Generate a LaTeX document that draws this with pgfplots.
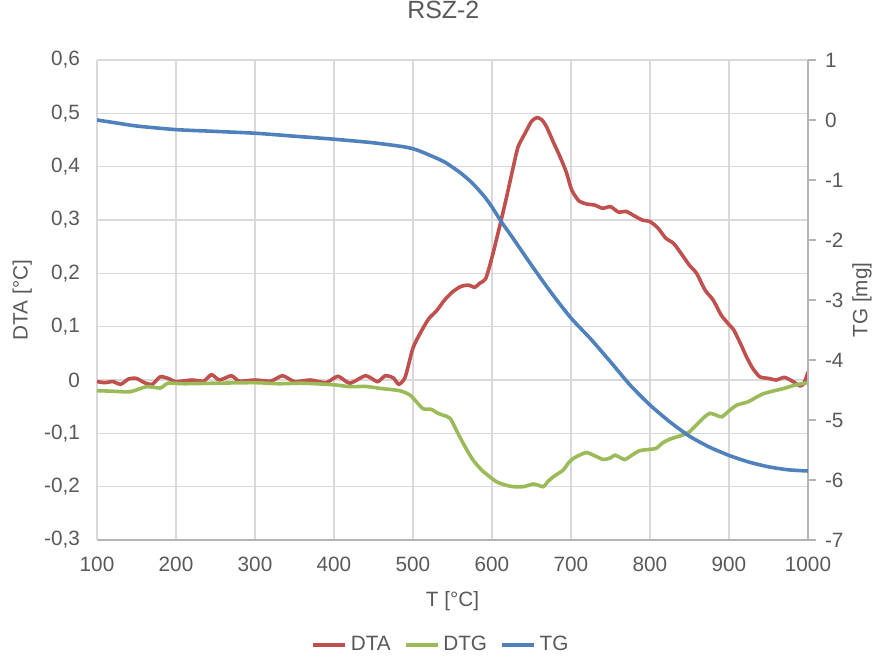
\documentclass[border=0pt]{standalone}
\usepackage{pgfplots}
\pgfplotsset{compat=1.18}
\usepackage{fontspec}
\setmainfont{Liberation Sans}
\definecolor{txt}{RGB}{89,89,89}
\definecolor{gridc}{RGB}{217,217,217}
\definecolor{dta}{RGB}{192,80,77}
\definecolor{dtg}{RGB}{155,187,89}
\definecolor{tg}{RGB}{79,129,189}
\begin{document}
\begin{tikzpicture}
\path[use as bounding box] (-48.5bp,-61bp) rectangle (391.5bp,270bp);
\begin{axis}[
  scale only axis, width=355.5bp, height=240bp,
  xmin=100, xmax=1000, ymin=-0.3, ymax=0.6,
  xtick={100,200,...,1000},
  ytick={-0.3,-0.2,-0.1,0,0.1,0.2,0.3,0.4,0.5,0.6},
  yticklabels={{-0,3},{-0,2},{-0,1},0,{0,1},{0,2},{0,3},{0,4},{0,5},{0,6}},
  /pgf/number format/assume math mode=true,
  /pgf/number format/1000 sep={},
  grid=major, major grid style={gridc, line width=0.75pt},
  axis line style={draw=gridc, line width=0.75pt},
  axis x line*=bottom, axis y line*=left,
  separate axis lines,
  x axis line style={draw=gridc!60!gray},
  major tick length=0pt,
  tick label style={font=\fontsize{10.4}{12}\selectfont, text=txt},
  xticklabel style={yshift=-5bp},
  yticklabel style={xshift=-5bp},
  xlabel={T [°C]}, ylabel={DTA [°C]},
  label style={font=\fontsize{10.4}{12}\selectfont, text=txt},
  xlabel style={at={(axis description cs:0.5,-0.128)}, anchor=center},
  ylabel style={at={(axis description cs:-0.105,0.5)}, anchor=center},
  title={RSZ-2},
  title style={font=\fontsize{12.5}{14}\selectfont, text=txt, at={(axis description cs:0.487,1.079)}, anchor=center},
]
\addplot[dta, line width=1.8pt, smooth, tension=0.4] coordinates {
(100,-0.003) (110,-0.005) (120,-0.003) (130,-0.008) (140,0.002) (150,0.003)
(160,-0.005) (170,-0.008) (180,0.006) (190,0.003) (200,-0.003) (220,0.0)
(235,-0.002) (245,0.01) (255,0.0) (270,0.008) (280,-0.002) (300,0.0)
(320,-0.002) (335,0.008) (350,-0.003) (370,0.0) (390,-0.005) (405,0.007)
(420,-0.006) (440,0.008) (455,-0.003) (465,0.008) (475,0.004) (482,-0.008)
(490,0.005) (500,0.06) (510,0.09) (520,0.115) (530,0.13) (540,0.15)
(550,0.165) (560,0.175) (570,0.178) (578,0.174) (585,0.182) (592,0.19)
(600,0.23) (610,0.29) (618,0.34) (627,0.40) (633,0.437) (642,0.463)
(650,0.485) (657,0.492) (663,0.488) (669,0.475) (678,0.445) (686,0.419)
(694,0.39) (701,0.356) (710,0.336) (720,0.330) (730,0.328) (740,0.322)
(750,0.325) (760,0.315) (770,0.316) (780,0.308) (790,0.300) (800,0.297)
(810,0.285) (820,0.266) (830,0.256) (840,0.236) (850,0.215) (859,0.20)
(870,0.168) (880,0.150) (890,0.122) (900,0.104) (906,0.094) (914,0.07)
(922,0.044) (930,0.022) (939,0.006) (950,0.003) (960,0.0) (970,0.005)
(980,-0.002) (990,-0.011) (995,-0.006) (1000,0.015)
};
\addplot[dtg, line width=1.8pt, smooth, tension=0.4] coordinates {
(100,-0.02) (120,-0.021) (142,-0.022) (163,-0.0125) (180,-0.015) (190,-0.006)
(210,-0.007) (250,-0.006) (300,-0.005) (330,-0.007) (360,-0.006) (400,-0.009)
(420,-0.0125) (440,-0.012) (460,-0.016) (483,-0.02) (496,-0.028) (505,-0.042)
(513,-0.054) (523,-0.055) (531,-0.062) (538,-0.066) (547,-0.072) (559,-0.106)
(567,-0.128) (576,-0.15) (587,-0.169) (596,-0.18) (606,-0.191) (617,-0.197)
(627,-0.2) (640,-0.2) (652,-0.195) (658,-0.197) (665,-0.2) (671,-0.19)
(678,-0.181) (690,-0.169) (697,-0.155) (703,-0.147) (712,-0.140) (720,-0.136)
(730,-0.142) (741,-0.149) (750,-0.146) (756,-0.141) (768,-0.149) (778,-0.140)
(787,-0.1325) (800,-0.130) (808,-0.128) (816,-0.118) (825,-0.111) (842,-0.103)
(850,-0.097) (859,-0.084) (870,-0.068) (876,-0.0625) (884,-0.066) (891,-0.069)
(900,-0.058) (910,-0.047) (924,-0.041) (935,-0.032) (943,-0.026) (955,-0.021)
(969,-0.016) (985,-0.009) (1000,-0.005)
};
\end{axis}
\begin{axis}[
  scale only axis, width=355.5bp, height=240bp,
  xmin=100, xmax=1000, ymin=-7, ymax=1,
  axis x line=none, axis y line*=right,
  ytick={-7,-6,...,1},
  /pgf/number format/assume math mode=true,
  axis line style={draw=gridc!60!gray, line width=0.75pt},
  tick style={draw=gridc!60!gray, line width=0.75pt},
  tick align=outside, major tick length=4bp,
  tick label style={font=\fontsize{10.4}{12}\selectfont, text=txt},
  yticklabel style={xshift=1bp},
  ylabel={TG [mg]},
  label style={font=\fontsize{10.4}{12}\selectfont, text=txt},
  ylabel style={at={(axis description cs:1.076,0.5)}, anchor=center, rotate=0},
  legend style={at={(axis description cs:0.485,-0.219)}, anchor=center,
    draw=none, legend columns=3, font=\fontsize{10.4}{12}\selectfont, text=txt,
    /tikz/every even column/.append style={column sep=4.5bp}},
  legend cell align=left,
  legend image code/.code={\draw[#1, line width=1.8pt] (0bp,0bp) -- (16bp,0bp);},
]
\addlegendimage{dta}\addlegendentry{DTA}
\addlegendimage{dtg}\addlegendentry{DTG}
\addplot[tg, line width=1.8pt, smooth, tension=0.4] coordinates {
(100,0.0) (125,-0.05) (150,-0.1) (200,-0.16) (250,-0.19) (300,-0.22)
(350,-0.27) (400,-0.32) (450,-0.38) (490,-0.45) (505,-0.50) (520,-0.58)
(540,-0.70) (560,-0.88) (575,-1.05) (590,-1.27) (600,-1.45) (612,-1.70)
(625,-1.94) (650,-2.42) (675,-2.88) (700,-3.30) (725,-3.65) (750,-4.03)
(775,-4.42) (800,-4.75) (825,-5.03) (850,-5.27) (875,-5.45) (900,-5.59)
(925,-5.70) (950,-5.78) (975,-5.83) (1000,-5.85)
};
\addlegendentry{TG}
\end{axis}
\end{tikzpicture}
\end{document}
